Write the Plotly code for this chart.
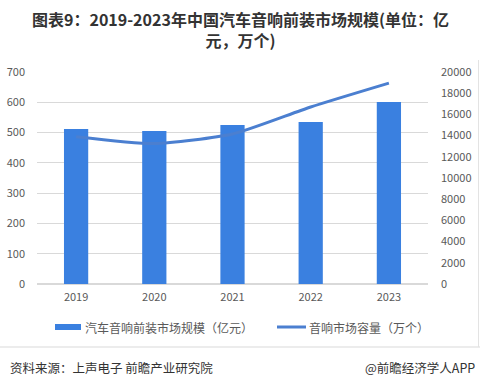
import plotly.graph_objects as go

years = ["2019", "2020", "2021", "2022", "2023"]
market_size = [512, 505, 525, 535, 601]          # 亿元
capacity = [13900, 13250, 14150, 16700, 18950]    # 万个
left_ticks = [0, 100, 200, 300, 400, 500, 600, 700]
right_ticks = [0, 2000, 4000, 6000, 8000, 10000, 12000, 14000, 16000, 18000, 20000]

FONT = "Noto Sans CJK SC"
TXT = "#595959"
BAR_C = "#3A80E0"
LINE_C = "#4B7FD0"
bar_name = "汽车音响前装市场规模（亿元）"
line_name = "音响市场容量（万个）"

fig = go.Figure()
fig.add_trace(go.Bar(
    x=years, y=market_size, name=bar_name,
    marker=dict(color=BAR_C, line=dict(width=0)), width=0.31, yaxis="y",
))
fig.add_trace(go.Scatter(
    x=years, y=capacity, name=line_name, mode="lines",
    line=dict(color=LINE_C, width=3, shape="spline", smoothing=0.6), yaxis="y2",
))

PH = 212.0
PW = 391.0
def py(px):  # pixel y -> paper y
    return (284 - px) / PH
def pxx(px):  # pixel x -> paper x
    return (px - 37) / PW

fig.update_layout(
    width=480, height=387,
    margin=dict(l=37, r=52, t=72, b=103, autoexpand=False),
    paper_bgcolor="white", plot_bgcolor="white",
    font=dict(family=FONT, size=11, color=TXT),
    xaxis=dict(showgrid=False, showline=False, ticks="", tickfont=dict(size=11, color=TXT),
               ticklabelstandoff=5, automargin=False),
    yaxis=dict(range=[0, 700], tickvals=left_ticks, showgrid=True, gridcolor="#D9D9D9",
               gridwidth=1, zeroline=True, zerolinecolor="#D9D9D9", ticks="",
               tickfont=dict(size=11, color=TXT), ticklabelstandoff=11, automargin=False),
    yaxis2=dict(range=[0, 20000], tickvals=right_ticks, tickformat="d", overlaying="y",
                side="right", showgrid=False, zeroline=False, ticks="",
                tickfont=dict(size=11, color=TXT), ticklabelstandoff=12, automargin=False),
    showlegend=False,
)

# title (one text, two lines)
fig.add_annotation(text="<b>图表9：2019-2023年中国汽车音响前装市场规模(单位：亿<br>元，万个)</b>",
                   xref="paper", yref="paper", x=pxx(240), y=py(30), xanchor="center",
                   yanchor="middle", showarrow=False, align="center",
                   font=dict(family=FONT, size=16, color="#333333"))

# legend (drawn manually to get wide swatches)
LY = 327
fig.add_shape(type="rect", xref="paper", yref="paper", x0=pxx(55), x1=pxx(81),
              y0=py(LY + 3), y1=py(LY - 3), fillcolor=BAR_C, line=dict(width=0))
fig.add_annotation(text=bar_name, xref="paper", yref="paper", x=pxx(83), y=py(LY),
                   xanchor="left", yanchor="middle", showarrow=False,
                   font=dict(family=FONT, size=12, color=TXT))
fig.add_shape(type="line", xref="paper", yref="paper", x0=pxx(277), x1=pxx(306),
              y0=py(LY), y1=py(LY), line=dict(color=LINE_C, width=3))
fig.add_annotation(text=line_name, xref="paper", yref="paper", x=pxx(307), y=py(LY),
                   xanchor="left", yanchor="middle", showarrow=False,
                   font=dict(family=FONT, size=12, color=TXT))

# separator and source
fig.add_shape(type="line", xref="paper", yref="paper", x0=pxx(0), x1=pxx(480),
              y0=py(347), y1=py(347), line=dict(color="#D9D9D9", width=1))
fig.add_shape(type="line", xref="paper", yref="paper", x0=pxx(478.5), x1=pxx(478.5),
              y0=py(60), y1=py(347), line=dict(color="#E3E3E3", width=1))
fig.add_annotation(text="资料来源：上声电子 前瞻产业研究院", xref="paper", yref="paper",
                   x=pxx(8), xanchor="left", y=py(367), yanchor="middle", showarrow=False,
                   font=dict(family=FONT, size=12.5, color="#333333"))
fig.add_annotation(text="@前瞻经济学人APP", xref="paper", yref="paper",
                   x=pxx(477), xanchor="right", y=py(367), yanchor="middle", showarrow=False,
                   font=dict(family=FONT, size=12.5, color="#333333"))

fig.write_html("out.html", config={"displayModeBar": False},
               post_script="document.body.style.margin='0';document.body.style.padding='0';")
